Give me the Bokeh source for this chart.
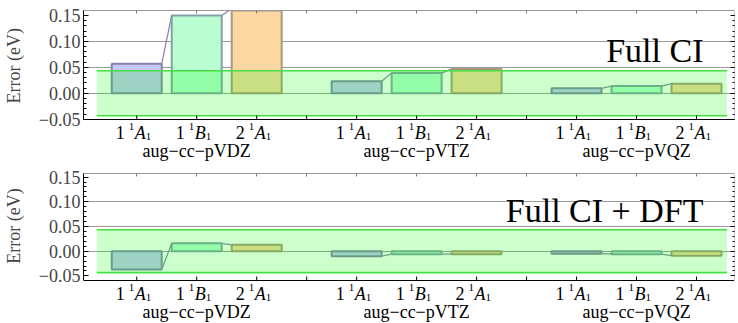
from bokeh.plotting import figure
from bokeh.layouts import column
from bokeh.models import (ColumnDataSource, FixedTicker, CustomJSTickFormatter, LinearAxis,
                          Range1d, Label)
from bokeh.embed import file_html
from bokeh.resources import INLINE

FONT = "Liberation Serif"

# ---------------- data ----------------
basis_sets = ["aug−cc−pVDZ", "aug−cc−pVTZ", "aug−cc−pVQZ"]
state_labels = ["1 ¹A₁", "1 ¹B₁", "2 ¹A₁"]
state_number = ["1", "1", "2"]
state_multiplicity = ["1", "1", "1"]
state_symbol = ["A", "B", "A"]
state_subscript = ["1", "1", "1"]

fci_vdz = [0.057, 0.150, 0.163]
fci_vtz = [0.023, 0.039, 0.047]
fci_vqz = [0.0095, 0.014, 0.0185]

dft_vdz = [-0.037, 0.016, 0.013]
dft_vtz = [-0.010, -0.006, -0.006]
dft_vqz = [-0.005, -0.006, -0.009]

chem_accuracy = 0.0434  # eV  (1 kcal/mol)
y_ticks = [-0.05, 0.0, 0.05, 0.10, 0.15]
grid_ticks = [0.0, 0.05, 0.10]

panel_titles = ["Full CI", "Full CI + DFT"]
y_title = "Error (eV)"

# ---------------- style ----------------
bar_fill = ["#c6c8f6", "#b9fdd1", "#fdd7a2"]
bar_line = ["#8484aa", "#84a0a8", "#a8987c"]
GROUP_STEP = 11.0 / 3.0
BAR_W = 5.0 / 6.0
NBSP = "\u00a0"

yfmt = CustomJSTickFormatter(code="return (tick < -1e-9 ? '\\u2212' : '') + Math.abs(tick).toFixed(2);")
blank = CustomJSTickFormatter(code="return '';")


def add_text(p, x, y, text, x_offset, y_offset, size, align="left", style="normal"):
    p.add_layout(Label(x=x, y=y, text=text, x_offset=x_offset, y_offset=y_offset,
                       text_font=FONT, text_font_size=size, text_font_style=style,
                       text_align=align, text_baseline="alphabetic", text_color="black"))


def build(panel_values, title, y_lo, y_hi, height, b_top, plot_px, title_pad):
    """y_lo..y_hi is the visible plotting box (plot_px pixels tall); below it the
    frame continues to carry the category labels."""
    xs, vals, fills, lines, states = [], [], [], [], []
    x0, y0, x1, y1 = [], [], [], []
    seps, group_x = [], []
    for g, vlist in enumerate(panel_values):
        base = g * GROUP_STEP
        group_x.append(base + 1)
        for i, v in enumerate(vlist):
            xs.append(base + i)
            vals.append(v)
            fills.append(bar_fill[i])
            lines.append(bar_line[i])
            states.append(i)
        for i in range(len(vlist) - 1):
            x0.append(base + i + BAR_W / 2)
            y0.append(vlist[i])
            x1.append(base + i + 1 - BAR_W / 2)
            y1.append(vlist[i + 1])
        if g < len(panel_values) - 1:
            seps.append((base + 2 + base + GROUP_STEP) / 2)
    centers = list(xs)

    frame_px = height - b_top
    per_px = (y_hi - y_lo) / plot_px
    y_start = y_lo - (frame_px - plot_px) * per_px
    x_start, x_end = -0.888, 9.967

    p = figure(width=738, height=height, output_backend="svg", toolbar_location=None,
               x_range=Range1d(x_start, x_end), y_range=Range1d(y_start, y_hi),
               min_border_left=83, min_border_right=4, min_border_top=b_top,
               min_border_bottom=0, x_axis_location=None, y_axis_location=None)
    p.outline_line_color = None
    p.background_fill_color = "white"
    p.border_fill_color = "white"
    p.xgrid.visible = False

    minor = [round(-0.05 + 0.01 * k, 2) for k in range(22)]

    left = LinearAxis(ticker=FixedTicker(ticks=y_ticks, minor_ticks=minor), formatter=yfmt,
                      bounds=(y_lo, y_hi))
    # the frame continues below the box: pad the title so it is centred on the box
    left.axis_label = NBSP * title_pad + y_title
    left.axis_label_text_font = FONT
    left.axis_label_text_font_style = "normal"
    left.axis_label_text_font_size = "18px"
    left.axis_label_standoff = 12
    left.major_label_text_font = FONT
    left.major_label_text_font_size = "18px"
    left.major_label_standoff = 3
    left.major_tick_in = 5
    left.major_tick_out = 0
    left.minor_tick_in = 3
    left.minor_tick_out = 0
    left.axis_line_color = "black"
    p.add_layout(left, "left")

    right = LinearAxis(ticker=FixedTicker(ticks=y_ticks, minor_ticks=minor), formatter=blank,
                       bounds=(y_lo, y_hi))
    right.axis_line_color = "#cccccc"
    right.major_tick_in = 4
    right.major_tick_out = 0
    right.minor_tick_in = 2
    right.minor_tick_out = 0
    right.major_label_standoff = 0
    right.major_label_text_font_size = "0px"
    p.add_layout(right, "right")

    top = LinearAxis(ticker=FixedTicker(ticks=centers + seps), formatter=blank)
    top.axis_line_color = "#999999"
    top.major_tick_in = 3
    top.major_tick_out = 0
    top.major_tick_line_color = "#777777"
    top.minor_tick_line_color = None
    top.major_label_standoff = 0
    top.major_label_text_font_size = "0px"
    p.add_layout(top, "above")

    p.ygrid.ticker = FixedTicker(ticks=grid_ticks)
    p.ygrid.grid_line_color = "#9a9a9a"
    p.ygrid.grid_line_width = 1

    src = ColumnDataSource(dict(x=xs, top=vals, fill=fills, line=lines))
    p.vbar(x="x", top="top", bottom=0, width=BAR_W, fill_color="fill", line_color="line",
           line_width=2, source=src)
    p.segment(x0=x0, y0=y0, x1=x1, y1=y1, line_color="#8a8aa8", line_width=1.3)

    band_left = xs[0] - 2.0 / 3.0
    band_right = xs[-1] + 0.51
    p.quad(left=band_left, right=band_right, bottom=-chem_accuracy, top=chem_accuracy,
           fill_color="#00ff00", fill_alpha=0.2, line_color=None)
    p.segment(x0=[band_left, band_left], y0=[chem_accuracy, -chem_accuracy],
              x1=[band_right, band_right], y1=[chem_accuracy, -chem_accuracy],
              line_color="#44e044", line_width=1.6)

    # bottom edge of the plotting box with inward ticks
    p.segment(x0=[x_start], y0=[y_lo], x1=[x_end], y1=[y_lo], line_color="black", line_width=1)
    tk = centers + seps
    p.segment(x0=tk, y0=[y_lo] * len(tk), x1=tk, y1=[y_lo + 4 * per_px] * len(tk),
              line_color="black", line_width=1)

    p.add_layout(Label(x=9.45, y=0.0825, text=title, text_font=FONT, text_font_size="34px",
                       text_align="right", text_baseline="alphabetic", text_color="black"))

    # category labels: upright number, superscript multiplicity, italic symmetry, subscript
    for cx, s in zip(centers, states):
        add_text(p, cx, y_lo, state_number[s], -12, -13, "18px", align="right")
        add_text(p, cx, y_lo, state_multiplicity[s], -8, -7, "11px")
        add_text(p, cx, y_lo, state_symbol[s], -2, -13, "18px", style="italic")
        add_text(p, cx, y_lo, state_subscript[s], 9, -17, "11px")
    for gx, name in zip(group_x, basis_sets):
        add_text(p, gx, y_lo, name, 0, -31, "18px", align="center")
    return p


p1 = build([fci_vdz, fci_vtz, fci_vqz], panel_titles[0], -0.0505, 0.1596, 161, 10, 109, 9)
p2 = build([dft_vdz, dft_vtz, dft_vqz], panel_titles[1], -0.0593, 0.1573, 162, 12, 107, 10)

layout = column(p1, p2, spacing=0)
open("out.html", "w").write(file_html(layout, INLINE))
